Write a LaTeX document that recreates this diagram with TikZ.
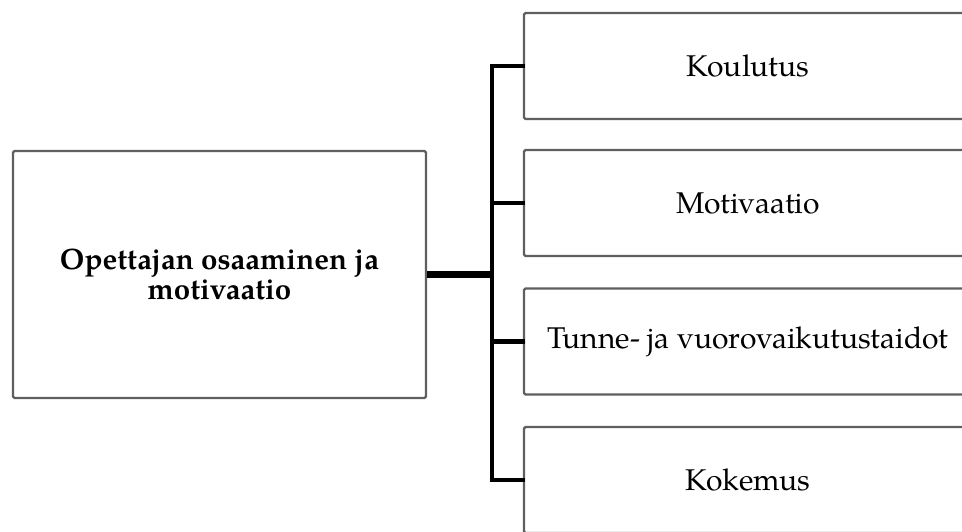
\documentclass[tikz,border=0pt]{standalone}
\usepackage{fontspec}
\setmainfont{TeX Gyre Pagella}
\begin{document}
\begin{tikzpicture}[x=1pt,y=-1pt,
  box/.style={draw={rgb,255:red,95;green,95;blue,95}, line width=2.2pt,
    rounded corners=1.5pt, fill=white, inner sep=0pt, align=center,
    font=\fontsize{30}{30}\selectfont},
  mainbox/.style={box, minimum width=413pt, minimum height=247pt,
    font=\fontsize{29.5}{30}\selectfont\bfseries},
  sidebox/.style={box, minimum width=448pt, minimum height=106pt},
  hub/.style={line width=6.5pt, black},
  branch/.style={line width=4.2pt, black, line join=miter, line cap=rect}]
  \useasboundingbox (0,0) rectangle (962,531);
  \clip (0,0) rectangle (962,531);

  % central theme on the left
  \node[mainbox] (main) at (219.5,274.5) {Opettajan osaaminen ja\\motivaatio};

  % the four components on the right
  \node[sidebox] (k1) at (748,66)    {Koulutus};
  \node[sidebox] (k2) at (748,203)   {Motivaatio};
  \node[sidebox] (k3) at (748,341.5) {Tunne- ja vuorovaikutustaidot};
  \node[sidebox] (k4) at (748,480)   {Kokemus};

  % bracket joining the theme to its components
  \coordinate (sp) at (492,274.5);
  \draw[branch] (k1.west) -| (sp) |- (k4.west);
  \draw[branch] (k2.west) -- (k2.west -| sp);
  \draw[branch] (k3.west) -- (k3.west -| sp);
  \draw[hub] (main.east) -- (main.east -| sp);
\end{tikzpicture}
\end{document}
